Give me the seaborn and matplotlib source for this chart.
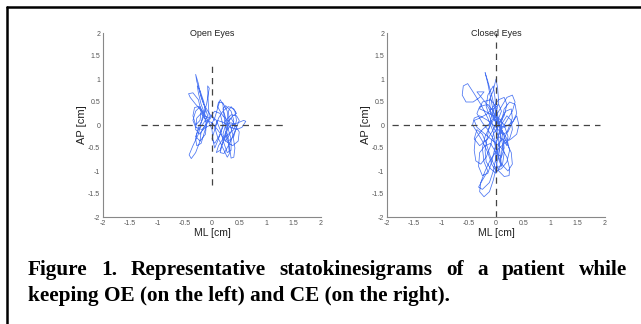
import matplotlib
matplotlib.use("Agg")
import matplotlib.pyplot as plt
from matplotlib.lines import Line2D
import pandas as pd
import seaborn as sns

# centre of pressure traces [cm]
oe_ml = [0.05, -0.05, -0.15, -0.22, -0.28, -0.3, -0.25, -0.2, -0.12, -0.08, -0.15, -0.25, -0.3, -0.22,
         -0.12, -0.1, -0.18, -0.3, -0.4, -0.43, -0.35, -0.25, -0.2, -0.22, -0.3, -0.35, -0.32, -0.25,
         -0.15, -0.05, -0.07, -0.08, -0.05, -0.1, -0.18, -0.25, -0.35, -0.42, -0.38, -0.3, -0.22, -0.2,
         -0.12, -0.02, 0.05, 0.1, 0.15, 0.2, 0.22, 0.25, 0.3, 0.33, 0.35, 0.4, 0.42, 0.38, 0.32, 0.3,
         0.35, 0.42, 0.45, 0.4, 0.3, 0.2, 0.12, 0.08, 0.15, 0.2, 0.25, 0.35, 0.48, 0.58, 0.62, 0.55,
         0.45, 0.35, 0.22, 0.1, 0.05, 0.1, 0.2, 0.28, 0.32, 0.3, 0.25, 0.28, 0.38, 0.45, 0.4, 0.3, 0.2,
         0.12, 0.05, 0.0, 0.05, 0.15, 0.2, 0.15, 0.05, -0.05, -0.15, -0.22, -0.3, -0.28, -0.2, -0.1,
         0.0, 0.1, 0.25, 0.38, 0.48, 0.5, 0.42, 0.35, 0.3,
         0.2, 0.1, 0.12, 0.2, 0.28, 0.3, 0.25, 0.18, 0.15, 0.22, 0.3, 0.38, 0.45, 0.5, 0.45, 0.35,
         0.25, 0.18, 0.12, 0.05, 0.02, 0.0, -0.05, -0.12, -0.2, -0.25, -0.27, -0.22, -0.15, -0.12,
         -0.18, -0.25, -0.3, -0.28, -0.2, -0.15, -0.1, -0.15, -0.22, -0.3, -0.35, -0.3, -0.18, -0.08,
         0.0, 0.08, 0.15, 0.22, 0.28, 0.35, 0.35, 0.3, 0.25, 0.2, 0.25, 0.35, 0.4, 0.35, 0.25, 0.2,
         0.25, 0.35, 0.45, 0.4, 0.3]
oe_ap = [0.1, 0.25, 0.45, 0.7, 0.95, 1.1, 0.9, 0.6, 0.35, 0.2, 0.05, -0.1, -0.25, -0.35,
         -0.2, 0.05, 0.3, 0.45, 0.6, 0.68, 0.7, 0.55, 0.3, 0.1, 0.0, 0.2, 0.38, 0.4,
         0.2, 0.15, 0.5, 0.85, 0.8, 0.45, 0.15, -0.2, -0.45, -0.65, -0.73, -0.6, -0.35, -0.15,
         -0.05, 0.0, 0.15, 0.35, 0.55, 0.45, 0.2, -0.05, -0.3, -0.55, -0.72, -0.7, -0.5, -0.2, 0.05, 0.3,
         0.4, 0.3, 0.1, -0.1, -0.2, -0.3, -0.45, -0.6, -0.55, -0.35, -0.15, 0.0, 0.05, 0.1, 0.08, -0.05,
         -0.1, -0.05, 0.05, 0.1, -0.05, -0.25, -0.5, -0.7, -0.62, -0.4, -0.2, 0.05, 0.2, 0.25, 0.35, 0.4, 0.3,
         0.15, -0.1, -0.3, -0.4, -0.2, 0.0, 0.25, 0.3, 0.15, -0.05, -0.2, -0.1, 0.15, 0.25, 0.1,
         0.05, -0.1, -0.35, -0.45, -0.35, -0.15, 0.0, 0.15, 0.08,
         0.2, 0.4, 0.5, 0.48, 0.3, 0.0, -0.25, -0.45, -0.6, -0.62, -0.45, -0.25, -0.05, 0.1, 0.2, 0.22,
         0.1, -0.1, -0.3, -0.5, -0.35, -0.1, 0.05, 0.2, 0.45, 0.7, 0.85, 0.75, 0.5, 0.3,
         0.1, -0.05, -0.3, -0.45, -0.4, -0.2, 0.0, 0.25, 0.4, 0.3, 0.1, -0.05, -0.1, 0.05,
         0.2, 0.1, -0.1, -0.4, -0.6, -0.55, -0.3, -0.1, 0.15, 0.35, 0.42, 0.3, 0.1, -0.15, -0.35, -0.2,
         0.0, 0.05, -0.05, -0.25, -0.35]

ce_ml = [0.0, -0.05, -0.1, -0.15, -0.2, -0.15, -0.08, -0.02, 0.02, 0.05, 0.08, 0.1, 0.05, 0.0,
         -0.05, -0.15, -0.28, -0.4, -0.52, -0.6, -0.62, -0.55, -0.42, -0.3, -0.22, -0.35, -0.2, -0.1,
         0.0, 0.1, 0.2, 0.25, 0.2, 0.1, 0.0, -0.08, -0.15, -0.25, -0.35, -0.43, -0.4, -0.3, -0.15,
         0.0, 0.12, 0.22, 0.3, 0.38, 0.42, 0.38, 0.28, 0.15, 0.02, -0.1, -0.2, -0.28, -0.3, -0.22,
         -0.12, -0.05, 0.0, 0.05, 0.08, 0.1, 0.15, 0.25, 0.35, 0.38, 0.3, 0.15, 0.0, -0.1, -0.12,
         -0.05, 0.0, 0.03, 0.05, 0.0, -0.1, -0.25, -0.38, -0.4, -0.37, -0.28, -0.18, -0.1, -0.05,
         0.05, 0.15, 0.2, 0.15, 0.05, -0.05, -0.15, -0.3, -0.4, -0.35, -0.2, -0.05, 0.1, 0.2, 0.25,
         0.24, 0.15, 0.05, 0.0, -0.02, 0.02, 0.1, 0.2, 0.3, 0.35, 0.3, 0.2, 0.1, 0.0, -0.1, -0.2,
         -0.25, -0.22, -0.15, -0.25, -0.32, -0.25, -0.12, -0.05, 0.0, 0.05, 0.12, 0.2, 0.22, 0.15,
         0.05, -0.05, -0.2, -0.3, -0.25, -0.1, 0.0, 0.05,
         0.12, 0.2, 0.28, 0.3, 0.22, 0.1, 0.02, -0.05, -0.15, -0.25, -0.35, -0.3, -0.15, -0.05,
         0.05, 0.12, 0.15, 0.1, 0.0, -0.1, -0.2, -0.3, -0.32, -0.25, -0.15, -0.08, -0.02, 0.05,
         0.12, 0.2, 0.28, 0.3, 0.25, 0.15, 0.05, -0.05, -0.12, -0.18, -0.15, -0.05, -0.02, 0.0,
         0.05, 0.1, 0.15, 0.12, 0.0, -0.1, -0.18, -0.25, -0.35, -0.4, -0.3, -0.15, -0.05, 0.05,
         0.1, 0.05, -0.05, -0.1, -0.15, -0.2, -0.18, -0.1, 0.0, 0.08, 0.1, 0.15, 0.22, 0.3, 0.28,
         0.18, 0.08, 0.0]
ce_ap = [0.0, 0.3, 0.6, 0.9, 1.14, 0.95, 0.65, 0.35, 0.0, -0.35, -0.7, -0.9, -0.75, -0.45,
         -0.15, 0.15, 0.45, 0.68, 0.9, 0.85, 0.65, 0.5, 0.5, 0.6, 0.72, 0.72, 0.5, 0.3,
         0.1, -0.1, -0.3, -0.55, -0.8, -0.95, -1.0, -0.85, -0.6, -0.35, -0.15, 0.0, 0.15, 0.2, 0.1,
         -0.05, -0.2, -0.15, 0.05, 0.2, 0.0, -0.2, -0.3, -0.4, -0.55, -0.75, -1.0, -1.25, -1.45, -1.56,
         -1.45, -1.2, -0.95, -0.6, -0.3, 0.05, 0.35, 0.5, 0.45, 0.25, 0.05, -0.05, 0.05, 0.25, 0.55,
         0.75, 1.0, 0.8, 0.5, 0.25, 0.05, -0.1, -0.3, -0.55, -0.78, -0.85, -0.7, -0.45, -0.2,
         0.0, 0.2, 0.45, 0.6, 0.55, 0.4, 0.25, 0.15, 0.1, -0.05, -0.2, -0.35, -0.5, -0.7, -0.95,
         -1.1, -1.12, -1.0, -0.8, -0.55, -0.3, -0.1, 0.1, 0.3, 0.5, 0.65, 0.6, 0.4, 0.2, 0.0, -0.25,
         -0.5, -0.8, -1.0, -1.2, -1.35, -1.4, -1.25, -1.0, -0.7, -0.4, -0.3, -0.45, -0.25, 0.0,
         0.15, 0.2, 0.3, 0.35, 0.5, 0.55, 0.4, 0.1,
         -0.15, -0.4, -0.6, -0.85, -1.0, -0.85, -0.6, -0.3, -0.1, 0.05, 0.25, 0.4, 0.45, 0.3,
         0.05, -0.2, -0.5, -0.7, -0.6, -0.4, -0.45, -0.6, -0.9, -1.1, -1.05, -0.8, -0.5, -0.2,
         0.05, 0.2, 0.1, -0.1, -0.3, -0.35, -0.25, -0.05, 0.2, 0.4, 0.65, 0.85, 0.6, 0.3,
         0.0, -0.3, -0.6, -0.85, -0.95, -0.7, -0.4, -0.2, -0.1, -0.3, -0.45, -0.3, -0.1, 0.15,
         0.3, 0.45, 0.35, 0.1, -0.2, -0.55, -0.8, -0.95, -1.05, -0.9, -0.6, -0.3, -0.1, 0.15, 0.35,
         0.3, 0.1, -0.15]

panel_titles = ["Open Eyes", "Closed Eyes"]
ticks = [-2, -1.5, -1, -0.5, 0, 0.5, 1, 1.5, 2]
tick_labels = ["-2", "-1.5", "-1", "-0.5", "0", "0.5", "1", "1.5", "2"]
caption1 = "Figure 1. Representative statokinesigrams of a patient while"
caption2 = "keeping OE (on the left) and CE (on the right)."

sns.set_style("white")
plt.rcParams["font.family"] = ["Liberation Sans", "DejaVu Sans"]

W, H = 641, 324
fig = plt.figure(figsize=(W / 100, H / 100), dpi=100)

trace_col = "#2a5cf0"
panels = [(oe_ml, oe_ap, 103, (-1.3, 1.3), (-1.3, 1.3)),
          (ce_ml, ce_ap, 387, (-1.9, 1.9), (-2.0, 2.0))]

for i, (ml, ap, left_px, hspan, vspan) in enumerate(panels):
    ax = fig.add_axes([left_px / W, 1 - 217 / H, 218 / W, 184 / H])
    df = pd.DataFrame({"ML": ml, "AP": ap})
    sns.lineplot(data=df, x="ML", y="AP", sort=False, estimator=None,
                 color=trace_col, lw=0.55, alpha=0.85, ax=ax)
    ax.plot(hspan, [0, 0], ls=(0, (5, 4)), color="#444444", lw=0.9)
    ax.plot([0, 0], vspan, ls=(0, (5, 4)), color="#444444", lw=0.9)
    ax.set_xlim(-2, 2)
    ax.set_ylim(-2, 2)
    ax.set_xticks(ticks)
    ax.set_xticklabels(tick_labels)
    ax.set_yticks(ticks)
    ax.set_yticklabels(tick_labels)
    ax.tick_params(direction="in", length=2, width=0.6, labelsize=5, colors="#666666",
                   labelcolor="#555555", pad=2)
    for s in ["top", "right"]:
        ax.spines[s].set_visible(False)
    for s in ["left", "bottom"]:
        ax.spines[s].set_color("#888888")
        ax.spines[s].set_linewidth(0.8)
    ax.set_xlabel("ML [cm]", fontsize=7.5, labelpad=1, color="#222222")
    ax.set_ylabel("AP [cm]", fontsize=8, labelpad=1, color="#222222")
    ax.text(0, 2.0, panel_titles[i], ha="center", va="center", fontsize=6.5, color="#222222")

# figure frame (left and top edges only)
fig.add_artist(Line2D([7 / W, 7 / W], [0, 1 - 7 / H], color="black", lw=1.8, transform=fig.transFigure))
fig.add_artist(Line2D([7 / W, 1], [1 - 7 / H, 1 - 7 / H], color="black", lw=1.8, transform=fig.transFigure))

# caption, first line justified
cap_font = dict(family="Liberation Serif", weight="bold", fontsize=15.3, color="black")
fig.canvas.draw()
r = fig.canvas.get_renderer()
words = caption1.split()
texts = [fig.text(0, 1 - 275 / H, w, va="baseline", ha="left", **cap_font) for w in words]
widths = [t.get_window_extent(renderer=r).width for t in texts]
x0, x1 = 28, 627
gap = (x1 - x0 - sum(widths)) / (len(words) - 1)
pos = x0
for t, w in zip(texts, widths):
    t.set_x(pos / W)
    pos += w + gap
fig.text(x0 / W, 1 - 301 / H, caption2, va="baseline", ha="left", **cap_font)

fig.savefig("out.png", dpi=100)
